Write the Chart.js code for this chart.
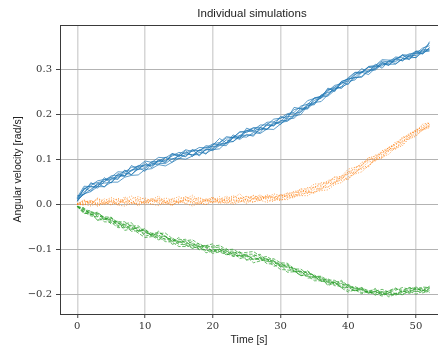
<!DOCTYPE html>
<html><head><meta charset="utf-8">
<script src="https://cdn.jsdelivr.net/npm/chart.js@4"></script>
<style>html,body{margin:0;padding:0;background:#fff;overflow:hidden}canvas{display:block}</style>
</head><body>
<canvas id="c" width="438" height="347"></canvas>
<script>
const time = [0,1,2,3,4,5,6,7,8,9,10,11,12,13,14,15,16,17,18,19,20,21,22,23,24,25,26,27,28,29,30,31,32,33,34,35,36,37,38,39,40,41,42,43,44,45,46,47,48,49,50,51,52];

const blueRuns = [
[0.012,0.035,0.041,0.052,0.055,0.060,0.072,0.071,0.082,0.084,0.096,0.093,0.104,0.103,0.112,0.110,0.121,0.117,0.126,0.125,0.134,0.137,0.150,0.148,0.160,0.163,0.170,0.171,0.182,0.183,0.191,0.201,0.204,0.218,0.222,0.236,0.240,0.255,0.259,0.272,0.278,0.292,0.294,0.305,0.306,0.318,0.316,0.327,0.325,0.334,0.335,0.347,0.352],
[0.008,0.023,0.028,0.039,0.039,0.049,0.049,0.060,0.064,0.065,0.077,0.079,0.088,0.085,0.093,0.102,0.100,0.107,0.115,0.113,0.122,0.134,0.135,0.150,0.152,0.164,0.164,0.176,0.176,0.189,0.191,0.195,0.210,0.214,0.230,0.235,0.239,0.254,0.256,0.261,0.278,0.281,0.282,0.296,0.298,0.311,0.309,0.321,0.319,0.331,0.330,0.344,0.357],
[0.015,0.040,0.039,0.040,0.055,0.054,0.065,0.062,0.075,0.086,0.082,0.095,0.095,0.094,0.110,0.108,0.107,0.119,0.118,0.130,0.128,0.130,0.143,0.139,0.150,0.149,0.159,0.157,0.167,0.166,0.178,0.189,0.191,0.205,0.220,0.223,0.238,0.240,0.253,0.269,0.274,0.289,0.292,0.306,0.308,0.321,0.320,0.321,0.332,0.331,0.340,0.340,0.342],
[0.006,0.027,0.039,0.036,0.050,0.059,0.058,0.069,0.066,0.078,0.088,0.085,0.096,0.104,0.100,0.107,0.115,0.109,0.120,0.120,0.132,0.133,0.134,0.147,0.148,0.162,0.161,0.170,0.166,0.180,0.183,0.199,0.201,0.205,0.223,0.225,0.243,0.248,0.253,0.273,0.278,0.282,0.295,0.293,0.306,0.307,0.318,0.312,0.323,0.322,0.335,0.334,0.347],
[0.011,0.022,0.033,0.044,0.047,0.048,0.062,0.063,0.076,0.077,0.079,0.092,0.091,0.090,0.101,0.101,0.111,0.110,0.110,0.121,0.121,0.123,0.137,0.139,0.153,0.153,0.154,0.166,0.167,0.178,0.182,0.184,0.195,0.210,0.212,0.226,0.228,0.243,0.256,0.260,0.268,0.281,0.284,0.298,0.300,0.312,0.311,0.311,0.323,0.325,0.326,0.338,0.340],
[0.013,0.032,0.045,0.048,0.051,0.063,0.064,0.074,0.074,0.084,0.087,0.087,0.098,0.097,0.107,0.115,0.113,0.121,0.119,0.127,0.124,0.136,0.147,0.148,0.161,0.159,0.169,0.165,0.175,0.174,0.186,0.186,0.198,0.213,0.215,0.231,0.235,0.251,0.264,0.267,0.281,0.293,0.293,0.304,0.302,0.314,0.313,0.323,0.330,0.328,0.338,0.335,0.361],
[0.019,0.022,0.048,0.039,0.059,0.047,0.068,0.063,0.086,0.077,0.093,0.081,0.099,0.092,0.113,0.105,0.119,0.106,0.121,0.111,0.131,0.146,0.136,0.154,0.146,0.169,0.163,0.159,0.179,0.174,0.195,0.190,0.215,0.212,0.212,0.236,0.236,0.258,0.250,0.271,0.266,0.287,0.301,0.294,0.311,0.302,0.319,0.316,0.332,0.321,0.340,0.334,0.348],
[0.007,0.036,0.029,0.047,0.038,0.057,0.055,0.076,0.065,0.082,0.073,0.091,0.087,0.104,0.093,0.110,0.105,0.121,0.107,0.123,0.119,0.131,0.130,0.149,0.144,0.155,0.151,0.170,0.166,0.183,0.177,0.194,0.196,0.199,0.219,0.221,0.241,0.243,0.261,0.257,0.273,0.276,0.293,0.288,0.302,0.315,0.308,0.325,0.318,0.329,0.325,0.343,0.344]
];

const orangeRuns = [
[0.000,0.009,0.001,0.013,0.007,0.015,0.008,0.004,0.012,0.017,0.010,0.006,0.013,0.008,0.003,0.012,0.016,0.010,0.015,0.008,0.014,0.006,0.012,0.019,0.012,0.018,0.011,0.018,0.015,0.023,0.019,0.016,0.026,0.026,0.037,0.036,0.048,0.049,0.049,0.063,0.067,0.082,0.086,0.103,0.107,0.111,0.127,0.134,0.149,0.153,0.166,0.170,0.181],
[0.000,0.000,-0.004,0.003,-0.001,0.006,-0.002,-0.004,0.003,0.001,0.008,0.000,-0.003,0.004,-0.001,0.007,0.002,-0.004,0.003,-0.001,0.007,0.002,0.005,0.000,0.005,0.011,0.005,0.009,0.004,0.012,0.008,0.014,0.022,0.020,0.027,0.025,0.035,0.038,0.050,0.053,0.056,0.069,0.082,0.085,0.098,0.102,0.118,0.124,0.130,0.146,0.153,0.165,0.170],
[0.000,0.005,0.008,0.002,0.012,0.005,0.000,0.011,0.018,0.008,0.003,0.012,0.006,0.014,0.009,0.003,0.011,0.020,0.008,0.005,0.013,0.010,0.018,0.009,0.005,0.013,0.019,0.014,0.019,0.013,0.018,0.025,0.025,0.034,0.034,0.045,0.045,0.047,0.060,0.062,0.078,0.082,0.087,0.098,0.103,0.119,0.125,0.133,0.147,0.151,0.164,0.166,0.177],
[0.000,0.002,0.006,0.000,0.004,-0.002,0.006,0.003,0.000,0.006,0.002,0.009,0.004,-0.001,0.007,0.004,0.009,0.001,0.005,0.010,0.004,0.008,0.001,0.010,0.008,0.005,0.012,0.009,0.016,0.008,0.014,0.020,0.017,0.024,0.024,0.033,0.035,0.046,0.046,0.056,0.068,0.070,0.081,0.094,0.096,0.108,0.121,0.126,0.140,0.148,0.161,0.165,0.175],
[0.000,0.007,0.004,0.010,0.001,0.007,0.012,0.007,0.003,0.010,0.014,0.006,0.009,0.003,0.011,0.017,0.009,0.005,0.013,0.008,0.003,0.012,0.008,0.016,0.012,0.017,0.013,0.011,0.017,0.015,0.021,0.020,0.029,0.029,0.030,0.039,0.041,0.053,0.055,0.059,0.072,0.078,0.093,0.097,0.109,0.114,0.126,0.131,0.145,0.157,0.163,0.174,0.180],
[0.000,-0.002,0.004,-0.004,0.002,0.008,0.001,0.012,0.004,-0.001,0.007,0.013,0.001,0.006,-0.002,0.006,0.011,0.004,0.000,0.009,0.016,0.004,0.009,0.003,0.015,0.008,0.004,0.016,0.012,0.019,0.011,0.010,0.018,0.019,0.019,0.028,0.030,0.032,0.044,0.048,0.061,0.067,0.072,0.086,0.099,0.105,0.111,0.127,0.133,0.149,0.156,0.169,0.174],
[0.000,0.010,-0.002,0.014,0.001,0.012,-0.002,0.017,0.003,0.014,-0.002,0.010,0.018,0.004,0.013,0.001,0.017,0.008,0.000,0.013,0.004,0.017,0.003,0.014,0.023,0.008,0.020,0.007,0.021,0.015,0.009,0.025,0.018,0.034,0.025,0.039,0.031,0.049,0.061,0.055,0.073,0.069,0.087,0.104,0.098,0.117,0.119,0.139,0.136,0.156,0.162,0.178,0.181],
[0.000,-0.001,0.009,-0.004,0.007,-0.001,0.013,0.002,0.009,-0.004,0.007,-0.001,0.012,0.003,-0.003,0.010,0.001,0.016,0.005,-0.001,0.012,0.003,0.015,0.002,0.010,0.001,0.014,0.021,0.009,0.006,0.021,0.016,0.014,0.028,0.028,0.025,0.040,0.038,0.047,0.061,0.055,0.076,0.078,0.083,0.104,0.104,0.124,0.122,0.141,0.145,0.151,0.166,0.172]
];

const greenRuns = [
[-0.005,-0.010,-0.022,-0.020,-0.030,-0.040,-0.039,-0.039,-0.050,-0.060,-0.057,-0.065,-0.063,-0.071,-0.081,-0.079,-0.078,-0.088,-0.094,-0.091,-0.097,-0.095,-0.105,-0.104,-0.114,-0.111,-0.111,-0.119,-0.116,-0.126,-0.134,-0.135,-0.144,-0.144,-0.155,-0.157,-0.168,-0.168,-0.169,-0.178,-0.178,-0.187,-0.187,-0.196,-0.193,-0.189,-0.195,-0.191,-0.185,-0.189,-0.184,-0.188,-0.184],
[-0.005,-0.017,-0.026,-0.028,-0.039,-0.040,-0.052,-0.052,-0.053,-0.064,-0.074,-0.072,-0.073,-0.083,-0.084,-0.094,-0.094,-0.092,-0.101,-0.101,-0.109,-0.106,-0.112,-0.110,-0.117,-0.114,-0.122,-0.119,-0.128,-0.127,-0.137,-0.137,-0.148,-0.158,-0.159,-0.170,-0.170,-0.171,-0.181,-0.182,-0.191,-0.191,-0.189,-0.198,-0.197,-0.194,-0.199,-0.202,-0.195,-0.190,-0.194,-0.190,-0.193],
[-0.005,-0.012,-0.015,-0.027,-0.028,-0.029,-0.041,-0.051,-0.048,-0.048,-0.060,-0.068,-0.065,-0.064,-0.076,-0.084,-0.081,-0.079,-0.089,-0.096,-0.093,-0.091,-0.101,-0.100,-0.109,-0.107,-0.105,-0.115,-0.123,-0.121,-0.130,-0.131,-0.143,-0.153,-0.151,-0.160,-0.160,-0.169,-0.178,-0.176,-0.185,-0.183,-0.190,-0.197,-0.194,-0.201,-0.196,-0.198,-0.200,-0.193,-0.187,-0.192,-0.188],
[-0.005,-0.020,-0.021,-0.035,-0.034,-0.034,-0.047,-0.048,-0.060,-0.059,-0.059,-0.070,-0.079,-0.076,-0.078,-0.089,-0.090,-0.098,-0.094,-0.093,-0.105,-0.105,-0.103,-0.115,-0.113,-0.124,-0.122,-0.120,-0.132,-0.133,-0.145,-0.146,-0.148,-0.159,-0.155,-0.166,-0.166,-0.178,-0.173,-0.182,-0.180,-0.189,-0.196,-0.193,-0.199,-0.204,-0.196,-0.200,-0.192,-0.198,-0.192,-0.197,-0.192],
[-0.005,-0.013,-0.023,-0.023,-0.033,-0.031,-0.043,-0.045,-0.056,-0.051,-0.062,-0.069,-0.068,-0.079,-0.075,-0.084,-0.084,-0.092,-0.087,-0.097,-0.104,-0.100,-0.108,-0.108,-0.106,-0.116,-0.115,-0.125,-0.123,-0.132,-0.130,-0.140,-0.150,-0.149,-0.150,-0.160,-0.162,-0.173,-0.172,-0.172,-0.181,-0.187,-0.186,-0.192,-0.190,-0.196,-0.193,-0.188,-0.191,-0.186,-0.189,-0.184,-0.185],
[-0.005,-0.016,-0.017,-0.020,-0.029,-0.037,-0.038,-0.046,-0.047,-0.058,-0.066,-0.064,-0.071,-0.071,-0.082,-0.082,-0.091,-0.088,-0.095,-0.103,-0.101,-0.100,-0.109,-0.116,-0.114,-0.113,-0.123,-0.122,-0.121,-0.129,-0.138,-0.140,-0.142,-0.150,-0.160,-0.161,-0.171,-0.173,-0.174,-0.185,-0.185,-0.192,-0.190,-0.197,-0.194,-0.198,-0.202,-0.198,-0.193,-0.196,-0.188,-0.192,-0.187],
[-0.005,-0.008,-0.024,-0.017,-0.033,-0.029,-0.050,-0.043,-0.041,-0.060,-0.054,-0.072,-0.060,-0.072,-0.084,-0.074,-0.088,-0.083,-0.100,-0.092,-0.088,-0.105,-0.098,-0.113,-0.106,-0.124,-0.115,-0.111,-0.127,-0.124,-0.140,-0.133,-0.146,-0.158,-0.148,-0.159,-0.171,-0.165,-0.179,-0.169,-0.182,-0.193,-0.185,-0.196,-0.187,-0.201,-0.192,-0.186,-0.195,-0.185,-0.187,-0.192,-0.182],
[-0.005,-0.021,-0.017,-0.036,-0.030,-0.044,-0.040,-0.058,-0.055,-0.053,-0.071,-0.067,-0.076,-0.071,-0.089,-0.085,-0.082,-0.098,-0.092,-0.108,-0.104,-0.100,-0.113,-0.107,-0.121,-0.116,-0.130,-0.126,-0.122,-0.138,-0.134,-0.151,-0.150,-0.148,-0.164,-0.163,-0.162,-0.181,-0.174,-0.186,-0.195,-0.190,-0.199,-0.193,-0.202,-0.195,-0.206,-0.199,-0.201,-0.193,-0.200,-0.193,-0.196]
];

const xTicks = [0,10,20,30,40,50];
const yTicks = [-0.2,-0.1,0.0,0.1,0.2,0.3];
const titleText = 'Individual simulations';
const xLabel = 'Time [s]';
const yLabel = 'Angular velocity [rad/s]';

function makeSets(runs, color, dash) {
  return runs.map(r => ({
    data: time.map((t, i) => ({x: t, y: r[i]})),
    borderColor: color, borderWidth: 0.9, borderDash: dash,
    pointRadius: 0, fill: false, tension: 0
  }));
}

const datasets = [].concat(
  makeSets(blueRuns, 'rgba(31,119,180,0.8)', []),
  makeSets(orangeRuns, 'rgba(255,127,14,0.8)', [1, 1.6]),
  makeSets(greenRuns, 'rgba(44,160,44,0.8)', [3.5, 1.6])
);

const framePlugin = {
  id: 'frame',
  afterDraw(chart) {
    const {ctx, chartArea} = chart;
    ctx.save();
    ctx.strokeStyle = '#3a3a3a'; ctx.lineWidth = 1;
    ctx.beginPath();
    ctx.moveTo(chartArea.left, Math.round(chartArea.top) + 0.5);
    ctx.lineTo(chartArea.right, Math.round(chartArea.top) + 0.5);
    ctx.stroke();
    ctx.fillStyle = '#222';
    ctx.font = '11.5px "Liberation Sans"';
    ctx.textAlign = 'center'; ctx.textBaseline = 'middle';
    ctx.fillText(titleText, chartArea.left + 192, 14);
    ctx.restore();
  }
};

const fmt = v => (v < -1e-9 ? '\u2212' + Math.abs(v).toFixed(1) : Math.abs(v).toFixed(1));

new Chart(document.getElementById('c'), {
  type: 'line',
  data: { datasets },
  plugins: [framePlugin],
  options: {
    responsive: false, animation: false, devicePixelRatio: 1,
    layout: { padding: { top: 25, left: 0, right: 0, bottom: 0 } },
    plugins: { legend: { display: false }, tooltip: { enabled: false }, title: { display: false } },
    scales: {
      x: {
        type: 'linear', min: -2.55, max: 53.25,
        afterBuildTicks: a => { a.ticks = xTicks.map(v => ({value: v})); },
        afterFit: s => { s.height = 33; },
        grid: { color: '#d6d6d6', lineWidth: 1.5, tickLength: 4, tickColor: '#444', tickWidth: 1 },
        border: { color: '#3a3a3a', width: 1 },
        ticks: { padding: 2, color: '#333', maxRotation: 0, font: { family: 'DejaVu Serif', size: 10 }, callback: v => String(v) },
        title: { display: true, text: xLabel, color: '#222', font: { family: 'Liberation Sans', size: 10.5 }, padding: { top: 0, bottom: 1 } }
      },
      y: {
        type: 'linear', min: -0.2438, max: 0.398,
        afterBuildTicks: a => { a.ticks = yTicks.map(v => ({value: v})); },
        afterFit: s => { s.width = 60; },
        grid: { color: '#b3b3b3', lineWidth: 1, tickLength: 4, tickColor: '#444', tickWidth: 1 },
        border: { color: '#3a3a3a', width: 1 },
        ticks: { padding: 4, color: '#333', font: { family: 'DejaVu Serif', size: 10 }, callback: v => fmt(v) },
        title: { display: true, text: yLabel, color: '#222', font: { family: 'Liberation Sans', size: 10.5 }, padding: { top: 12, bottom: 0 } }
      }
    }
  }
});
</script>
</body></html>
